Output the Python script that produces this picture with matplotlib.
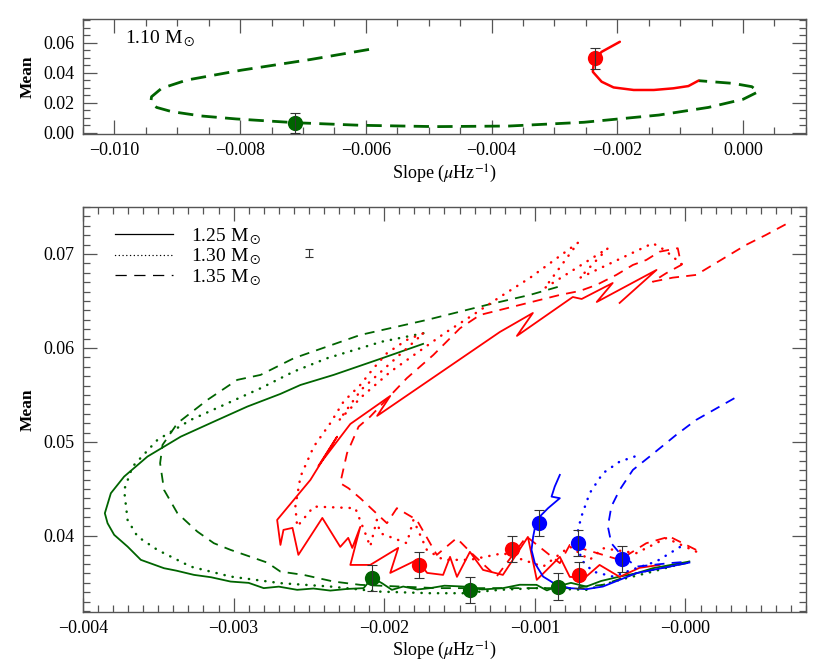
import matplotlib.pyplot as plt
from matplotlib.lines import Line2D

plt.rcParams['font.family'] = ['Liberation Serif', 'DejaVu Serif']
plt.rcParams['mathtext.fontset'] = 'stix'

GREEN = '#006400'
RED = '#ff0000'
BLUE = '#0000ff'
AXC = '#555555'

# ---------------- upper panel: 1.10 Msun track
x110_ms = [-0.00595, -0.00688, -0.00798, -0.00885, -0.00925, -0.00941, -0.00942, -0.00933,
           -0.00909, -0.00862, -0.00806, -0.00712, -0.00609, -0.00490, -0.00372, -0.00253,
           -0.00134, -0.00055, 0.00000, 0.00024, 0.00014, -0.00016, -0.00071]
y110_ms = [0.0554, 0.0487, 0.0416, 0.0350, 0.0295, 0.0239, 0.0206, 0.0168,
           0.0140, 0.0111, 0.0091, 0.0066, 0.0049, 0.0040, 0.0044, 0.0069,
           0.0117, 0.0168, 0.0222, 0.0272, 0.0306, 0.0328, 0.0346]
x110_sg = [-0.00071, -0.00087, -0.00111, -0.00142, -0.00174, -0.00206, -0.00225, -0.00239,
           -0.00237, -0.00225, -0.00196]
y110_sg = [0.0346, 0.0310, 0.0295, 0.0284, 0.0284, 0.0301, 0.0339, 0.0405,
           0.0483, 0.0538, 0.0605]
pt110_x = [-0.00712, -0.00236]
pt110_y = [0.0066, 0.0494]
pt110_err = [0.0068, 0.0068]
pt110_col = [GREEN, RED]

# ---------------- lower panel: 1.25 / 1.30 / 1.35 Msun tracks
g125_x = [-0.001742, -0.002015, -0.002336, -0.002556, -0.002689, -0.002909, -0.003131, -0.003351,
          -0.003572, -0.003727, -0.003815, -0.003855, -0.003837, -0.003793, -0.003704, -0.003616,
          -0.003462, -0.003380, -0.003263, -0.003150, -0.003020, -0.002900, -0.002800, -0.002700,
          -0.002578, -0.002470, -0.002358, -0.002250, -0.002137, -0.002080, -0.002015, -0.001949,
          -0.001874, -0.001780, -0.001696, -0.001600, -0.001475, -0.001350, -0.001212, -0.001100,
          -0.000989, -0.000920, -0.000856, -0.000760, -0.000658, -0.000560, -0.000437, -0.000330,
          -0.000217, -0.000100, 0.000026]
g125_y = [0.06043, 0.05890, 0.05713, 0.05606, 0.05511, 0.05376, 0.05216, 0.05056,
          0.04844, 0.04631, 0.04454, 0.04241, 0.04135, 0.04011, 0.03886, 0.03745,
          0.03656, 0.03630, 0.03585, 0.03560, 0.03514, 0.03500, 0.03444, 0.03460,
          0.03426, 0.03440, 0.03418, 0.03435, 0.03444, 0.03553, 0.03497, 0.03426,
          0.03461, 0.03430, 0.03444, 0.03470, 0.03461, 0.03430, 0.03444, 0.03480,
          0.03479, 0.03420, 0.03461, 0.03500, 0.03461, 0.03520, 0.03567, 0.03600,
          0.03656, 0.03690, 0.03727]

g130_x = [-0.001740, -0.002015, -0.002380, -0.002601, -0.002821, -0.003064, -0.003285, -0.003506,
          -0.003671, -0.003727, -0.003704, -0.003638, -0.003506, -0.003285, -0.003020, -0.002689,
          -0.002358, -0.002027, -0.001696, -0.001475, -0.001232, -0.000989, -0.000658, -0.000437,
          -0.000217, 0.000026]
g130_y = [0.06156, 0.06067, 0.05890, 0.05748, 0.05571, 0.05394, 0.05234, 0.05021,
          0.04737, 0.04489, 0.04170, 0.03993, 0.03851, 0.03673, 0.03567, 0.03497,
          0.03461, 0.03407, 0.03390, 0.03390, 0.03426, 0.03444, 0.03426, 0.03532,
          0.03620, 0.03727]

g135_x = [-0.000848, -0.001033, -0.001320, -0.001717, -0.002159, -0.002601, -0.002821, -0.002976,
          -0.003174, -0.003373, -0.003472, -0.003488, -0.003462, -0.003373, -0.003241, -0.003131,
          -0.003020, -0.002777, -0.002689, -0.002535, -0.002336, -0.002159, -0.001651, -0.001210,
          -0.000768, -0.000548, -0.000327, -0.000106, 0.000026]
g135_y = [0.06649, 0.06564, 0.06457, 0.06298, 0.06138, 0.05890, 0.05713, 0.05660,
          0.05447, 0.05199, 0.04968, 0.04773, 0.04489, 0.04241, 0.04046, 0.03922,
          0.03851, 0.03716, 0.03620, 0.03585, 0.03514, 0.03479, 0.03444, 0.03444,
          0.03444, 0.03479, 0.03603, 0.03673, 0.03716]

r125_x = [-0.000172, -0.000305, -0.000437, -0.000570, -0.000669, -0.000768, -0.000834, -0.000987,
          -0.001046, -0.001212, -0.001344, -0.001431, -0.001517, -0.001563, -0.001609, -0.001715,
          -0.001782, -0.001960, -0.001907, -0.002093, -0.002225, -0.002159, -0.002212, -0.002239,
          -0.002292, -0.002411, -0.002570, -0.002609, -0.002669, -0.002689, -0.002711, -0.002490,
          -0.002313, -0.002437, -0.002225, -0.001960, -0.002047, -0.001232, -0.001013, -0.001119,
          -0.000748, -0.000689, -0.000483, -0.000589, -0.000192, -0.000437]
r125_y = [0.03691, 0.03660, 0.03564, 0.03691, 0.03553, 0.03564, 0.03777, 0.03532,
          0.03989, 0.03585, 0.03638, 0.03830, 0.03564, 0.03777, 0.03585, 0.03606,
          0.03745, 0.03606, 0.03872, 0.03691, 0.03691, 0.04096, 0.03872, 0.03979,
          0.03883, 0.04191, 0.03798, 0.04085, 0.04064, 0.03904, 0.04170, 0.04596,
          0.05056, 0.04745, 0.05191, 0.05489, 0.05277, 0.06170, 0.06372, 0.06128,
          0.06542, 0.06521, 0.06691, 0.06489, 0.06830, 0.06479]

r130_x = [0.000071, -0.000128, -0.000327, -0.000548, -0.000636, -0.000768, -0.000945, -0.001210,
          -0.001431, -0.001607, -0.001717, -0.001806, -0.001850, -0.002027, -0.002049, -0.002093,
          -0.002126, -0.002192, -0.002468, -0.002578, -0.002590, -0.002556, -0.002468, -0.002358,
          -0.002270, -0.002159, -0.002071, -0.001982, -0.001850, -0.001740, -0.002150, -0.002300,
          -0.002150, -0.001960, -0.001596,
          -0.001411, -0.001232, -0.001033, -0.000713, -0.000934, -0.000515, -0.000702, -0.000217,
          -0.000139, -0.000018]
r130_y = [0.03833, 0.03976, 0.03816, 0.03869, 0.03745, 0.03886, 0.03673, 0.03816,
          0.03745, 0.03745, 0.03851, 0.04170, 0.03922, 0.04029, 0.04170, 0.03886,
          0.04029, 0.04295, 0.04312, 0.04099, 0.04312, 0.04631, 0.04950, 0.05199,
          0.05429, 0.05606, 0.05784, 0.05944, 0.06085, 0.06156, 0.05560, 0.05230,
          0.05480, 0.05745, 0.06160,
          0.06351, 0.06542, 0.06745, 0.07120, 0.06638, 0.07061, 0.06745, 0.07114,
          0.07043, 0.06883]

r135_x = [0.000071, -0.000106, -0.000260, -0.000437, -0.000768, -0.000834, -0.001055, -0.001254,
          -0.001431, -0.001519, -0.001651, -0.001784, -0.001916, -0.001982, -0.002159, -0.002237,
          -0.002292, -0.002247, -0.002170, -0.002093, -0.001850, -0.001674, -0.001497, -0.001364,
          -0.000834, -0.000702, -0.000591, -0.000459, -0.000349, -0.000260, -0.000172, -0.000051,
          -0.000028, -0.000128, -0.000217, -0.000084, 0.000071, 0.000181, 0.000291, 0.000402,
          0.000534, 0.000678]
r135_y = [0.03851, 0.03993, 0.03922, 0.03745, 0.03904, 0.03710, 0.03993, 0.03567,
          0.03833, 0.03976, 0.03798, 0.04170, 0.04295, 0.04135, 0.04401, 0.04507,
          0.04561, 0.04880, 0.05163, 0.05269, 0.05678, 0.05925, 0.06209, 0.06351,
          0.06564, 0.06606, 0.06670, 0.06777, 0.06883, 0.06936, 0.07024, 0.07061,
          0.06883, 0.06795, 0.06705, 0.06748, 0.06777, 0.06883, 0.06989, 0.07096,
          0.07202, 0.07326]

b125_x = [-0.000834, -0.000868, -0.000889, -0.000834, -0.000912, -0.000989, -0.001011, -0.001022,
          -0.001000, -0.000945, -0.000856, -0.000768, -0.000658, -0.000548, -0.000437, -0.000327,
          -0.000106, 0.000026]
b125_y = [0.04649, 0.04524, 0.04418, 0.04401, 0.04295, 0.04170, 0.03993, 0.03851,
          0.03710, 0.03567, 0.03479, 0.03444, 0.03433, 0.03461, 0.03532, 0.03603,
          0.03673, 0.03716]

b130_x = [-0.000338, -0.000437, -0.000548, -0.000636, -0.000691, -0.000713, -0.000713, -0.000691,
          -0.000614, -0.000481, -0.000327, -0.000194, 0.000005]
b130_y = [0.04844, 0.04790, 0.04667, 0.04454, 0.04205, 0.04064, 0.03904, 0.03745,
          0.03620, 0.03567, 0.03656, 0.03727, 0.03922]

b135_x = [0.000325, 0.000071, -0.000062, -0.000238, -0.000349, -0.000437, -0.000492, -0.000515,
          -0.000492, -0.000437, -0.000327, -0.000106, 0.000026]
b135_y = [0.05465, 0.05234, 0.05074, 0.04844, 0.04702, 0.04489, 0.04312, 0.04099,
          0.03922, 0.03816, 0.03673, 0.03710, 0.03727]

# observed points
pts_x = [-0.00208, -0.00143, -0.000845, -0.00177, -0.001154, -0.000706, -0.000971, -0.000713, -0.000422]
pts_y = [0.0355, 0.03426, 0.0346, 0.0369, 0.03862, 0.03585, 0.04135, 0.03922, 0.03755]
pts_err = [0.0014] * 9
pts_col = [GREEN] * 3 + [RED] * 3 + [BLUE] * 3

# typical error bar shown next to the legend
typ_x, typ_y, typ_err = -0.0025, 0.0701, 0.0004

top_xticks = [-0.010, -0.008, -0.006, -0.004, -0.002, 0.000]
top_xlabels = ['\u22120.010', '\u22120.008', '\u22120.006', '\u22120.004', '\u22120.002', '0.000']
top_yticks = [0.00, 0.02, 0.04, 0.06]
top_ylabels = ['0.00', '0.02', '0.04', '0.06']
bot_xticks = [-0.004, -0.003, -0.002, -0.001, 0.000]
bot_xlabels = ['\u22120.004', '\u22120.003', '\u22120.002', '\u22120.001', '\u22120.000']
bot_yticks = [0.04, 0.05, 0.06, 0.07]
bot_ylabels = ['0.04', '0.05', '0.06', '0.07']

SOLID = '-'
DOTTED = (0, (0.1, 3.2))
DASHED = (0, (5.5, 4))

fig = plt.figure(figsize=(8.3, 6.64), dpi=100)
ax1 = fig.add_axes([0.100, 0.798, 0.871, 0.173])
ax2 = fig.add_axes([0.100, 0.0783, 0.871, 0.610])


def style_axes(ax, xt, xl, yt, yl, xminor, yminor):
    ax.set_xticks(xt)
    ax.set_xticklabels(xl)
    ax.set_yticks(yt)
    ax.set_yticklabels(yl)
    ax.set_xticks(xminor, minor=True)
    ax.set_yticks(yminor, minor=True)
    ax.tick_params(which='both', direction='in', top=True, right=True, color=AXC,
                   labelsize=13, width=0.9)
    ax.tick_params(which='major', length=10, pad=6)
    ax.tick_params(which='minor', length=5)
    for s in ax.spines.values():
        s.set_color(AXC)
        s.set_linewidth(1.0)
    ax.set_xlabel(r'Slope ($\mu$Hz$^{-1}$)', fontsize=13, labelpad=2)
    ax.set_ylabel('Mean', fontsize=12.5, fontweight='bold', labelpad=6)


# upper panel
ax1.plot(x110_ms, y110_ms, color=GREEN, lw=2.0, ls=(0, (5.5, 3)))
ax1.plot(x110_sg, y110_sg, color=RED, lw=1.8, solid_capstyle='round')
for x, y, e, c in zip(pt110_x, pt110_y, pt110_err, pt110_col):
    ax1.plot(x, y, 'o', ms=11, color=c, mec='none', zorder=4)
    ax1.errorbar(x, y, yerr=e, color='#333333', elinewidth=0.8, capsize=3.5, capthick=0.8, zorder=5)
ax1.text(0.058, 0.79, r'1.10 M$_\odot$', transform=ax1.transAxes, fontsize=14)
ax1.set_xlim(-0.01004, 0.00081)
ax1.set_ylim(-0.001, 0.0755)
style_axes(ax1, top_xticks, top_xlabels, top_yticks, top_ylabels,
           [-0.0105 + 0.0005 * i for i in range(24)],
           [0.005 * i for i in range(16)])

# lower panel
lw = 1.3
ax2.plot(g125_x, g125_y, color=GREEN, lw=lw, ls=SOLID)
ax2.plot(g130_x, g130_y, color=GREEN, lw=1.8, ls=DOTTED, dash_capstyle='round')
ax2.plot(g135_x, g135_y, color=GREEN, lw=lw, ls=DASHED)
ax2.plot(r125_x, r125_y, color=RED, lw=lw, ls=SOLID)
ax2.plot(r130_x, r130_y, color=RED, lw=1.8, ls=DOTTED, dash_capstyle='round')
ax2.plot(r135_x, r135_y, color=RED, lw=lw, ls=DASHED)
ax2.plot(b125_x, b125_y, color=BLUE, lw=lw, ls=SOLID)
ax2.plot(b130_x, b130_y, color=BLUE, lw=1.8, ls=DOTTED, dash_capstyle='round')
ax2.plot(b135_x, b135_y, color=BLUE, lw=lw, ls=DASHED)
for x, y, e, c in zip(pts_x, pts_y, pts_err, pts_col):
    ax2.plot(x, y, 'o', ms=11, color=c, mec='none', zorder=4)
    ax2.errorbar(x, y, yerr=e, color='#333333', elinewidth=0.8, capsize=3.5, capthick=0.8, zorder=5)
ax2.errorbar(typ_x, typ_y, yerr=typ_err, color='#333333', elinewidth=0.8, capsize=3, capthick=0.8)

handles = [Line2D([], [], color='black', lw=0.9, ls='-'),
           Line2D([], [], color='black', lw=1.0, ls=(0, (0.1, 2.6)), dash_capstyle='round'),
           Line2D([], [], color='black', lw=0.9, ls=(0, (9, 6)))]
labels = [r'1.25 M$_\odot$', r'1.30 M$_\odot$', r'1.35 M$_\odot$']
ax2.legend(handles, labels, loc='upper left', bbox_to_anchor=(0.025, 0.985), frameon=False,
           fontsize=14, handlelength=3.0, handletextpad=0.9, labelspacing=0.0, borderpad=0.2)

ax2.set_xlim(-0.004, 0.00079)
ax2.set_ylim(0.0319, 0.075)
style_axes(ax2, bot_xticks, bot_xlabels, bot_yticks, bot_ylabels,
           [-0.004 + 0.0001 * i for i in range(49)],
           [0.032 + 0.001 * i for i in range(44)])

fig.savefig('out.png', dpi=100)
